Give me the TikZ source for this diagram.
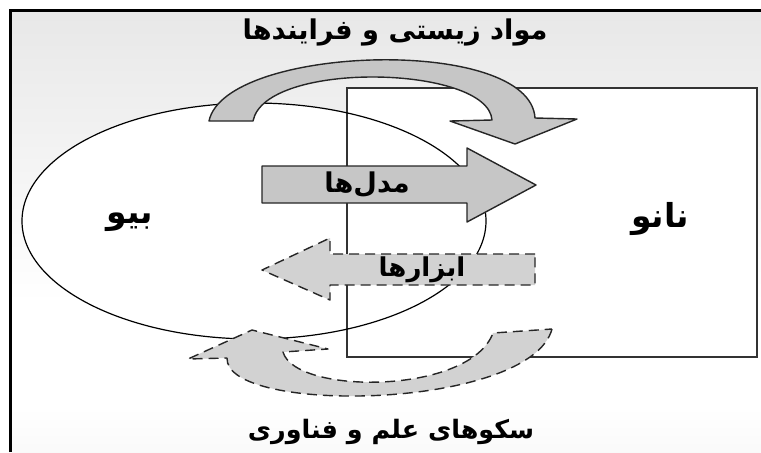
\documentclass[tikz,border=0pt]{standalone}
\usepackage{fontspec}
\newfontfamily\fa[Script=Arabic]{DejaVu Sans}
\TeXXeTstate=1
\usetikzlibrary{calc}
\pgfdeclareverticalshading{bgshade}{100bp}{color(0bp)=(gray!26); color(30bp)=(white); color(42bp)=(white); color(100bp)=(gray!32)}

\begin{document}
\begin{tikzpicture}[x=0.5pt,y=-0.5pt,
    lbl/.style={font=\fa\bfseries\fontsize{13.6}{15}\selectfont,inner sep=0pt},
    biglbl/.style={font=\fa\bfseries\fontsize{16.5}{18}\selectfont,inner sep=0pt},
    bigarrow/.style={draw=black!85,line width=0.7pt,fill=gray!45,line join=round},
    dasharrow/.style={bigarrow,fill=gray!35,dash pattern=on 5pt off 3pt}]
      \useasboundingbox (0,0) rectangle (761,452);
      \shade[shading=bgshade] (6pt,-6pt) rectangle (380.5pt,-226pt);
      \draw[line width=1.5pt] (10.5,452) -- (10.5,10.5) -- (761,10.5);
      \fill[white] (347,88) rectangle (757,357);
      \fill[white] (254,221) ellipse [x radius=116pt,y radius=59pt];
      \draw[line width=0.7pt,draw=black!80] (347,88) rectangle (757,357);
      \draw[line width=0.6pt] (254,221) ellipse [x radius=116pt,y radius=59pt];
      \draw[bigarrow] (209,121) .. controls (225,45) and (530,35) .. (535,118)
        -- (577,119) -- (515,144) -- (450,121) -- (492,120)
        .. controls (488,65) and (265,60) .. (253,121) -- cycle;
      \draw[bigarrow] (262,166) -- (467,166) -- (467,148) -- (536,185) -- (467,222) -- (467,203) -- (262,203) -- cycle;
      \draw[dasharrow] (535,254) -- (330,254) -- (330,238) -- (262,270) -- (330,300) -- (330,285) -- (535,285) -- cycle;
      \draw[dasharrow] (552,329) .. controls (530,410) and (225,415) .. (227,358)
        -- (188,359) -- (252,330) -- (328,349) -- (283,352)
        .. controls (295,395) and (470,395) .. (493,333) -- cycle;
      \node[lbl] (biomat) at (395,32) {\beginR مواد زیستی و فرایندها\endR};
      \node[lbl] (models) at (367,185) {\beginR مدل‌ها\endR};
      \node[lbl,font=\fa\bfseries\fontsize{13}{15}\selectfont] (tools) at (422,270) {\beginR ابزارها\endR};
      \node[biglbl] (bio) at (130,222) {\beginR بیو\endR};
      \node[biglbl] (nano) at (660,219) {\beginR نانو\endR};
      \node[lbl,font=\fa\bfseries\fontsize{12.7}{15}\selectfont] (platforms) at (391,432) {\beginR سکوهای علم و فناوری\endR};
\end{tikzpicture}
\end{document}
